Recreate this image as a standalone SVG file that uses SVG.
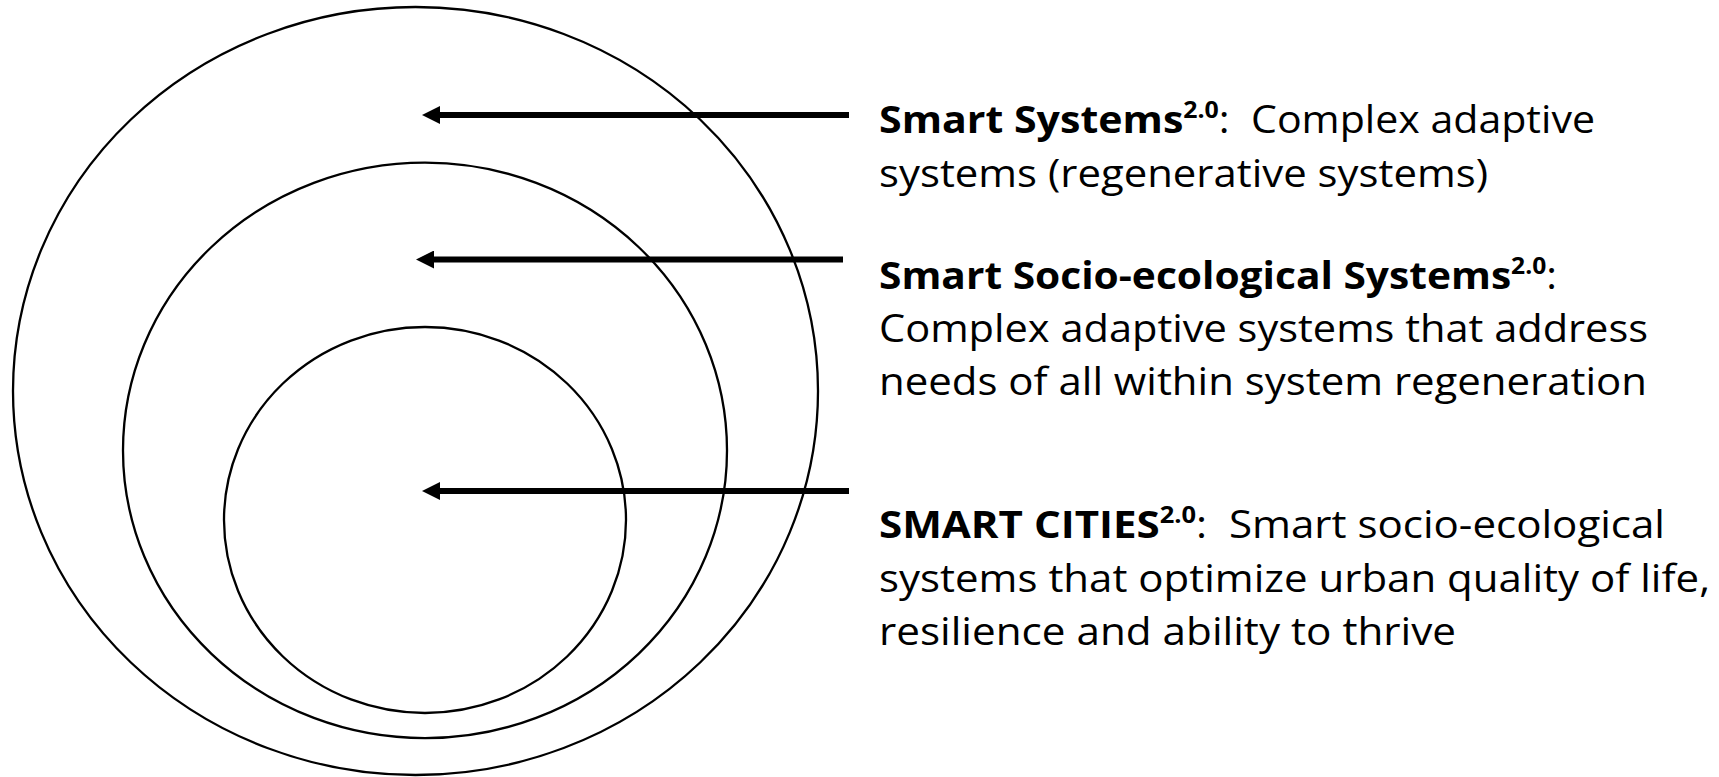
<svg xmlns="http://www.w3.org/2000/svg" width="1719" height="777" viewBox="0 0 1719 777">
<style>
.ring{fill:none;stroke:#000;stroke-width:2.3}
.conn{stroke:#000;stroke-width:6;fill:none}
.t{font-family:"Open Sans","Noto Sans","Liberation Sans",sans-serif;font-size:38px;fill:#000}
.b{font-weight:bold}
.sup{font-weight:bold;font-size:23px}
</style>
<defs>
<marker id="ah" markerUnits="userSpaceOnUse" markerWidth="18" markerHeight="18" viewBox="0 0 17 17" refX="0" refY="8.5" orient="auto">
<path d="M0,0 L17,8.5 L0,17 z" fill="#000"/>
</marker>
</defs>
<rect width="1719" height="777" fill="#fff"/>
<g id="outer"><ellipse class="ring" cx="415.5" cy="391" rx="402.5" ry="384"/></g>
<g id="middle"><ellipse class="ring" cx="425" cy="450.4" rx="302" ry="287.7"/></g>
<g id="inner"><ellipse class="ring" cx="425" cy="520" rx="201" ry="193"/></g>
<g id="connectors">
<line class="conn" x1="849" y1="115" x2="440" y2="115" marker-end="url(#ah)"/>
<line class="conn" x1="843" y1="259.5" x2="434" y2="259.5" marker-end="url(#ah)"/>
<line class="conn" x1="849" y1="491" x2="440" y2="491" marker-end="url(#ah)"/>
</g>
<g id="label-smart-systems">
<text class="t" x="879" y="133" textLength="716" lengthAdjust="spacingAndGlyphs"><tspan class="b">Smart Systems</tspan><tspan class="sup" dy="-15">2.0</tspan><tspan dy="15">:&#160; Complex adaptive</tspan></text>
<text class="t" x="879" y="187" textLength="609" lengthAdjust="spacingAndGlyphs">systems (regenerative systems)</text>
</g>
<g id="label-socio-ecological">
<text class="t" x="879" y="289" textLength="678" lengthAdjust="spacingAndGlyphs"><tspan class="b">Smart Socio-ecological Systems</tspan><tspan class="sup" dy="-15">2.0</tspan><tspan dy="15">:</tspan></text>
<text class="t" x="879" y="342" textLength="769" lengthAdjust="spacingAndGlyphs">Complex adaptive systems that address</text>
<text class="t" x="879" y="395" textLength="768" lengthAdjust="spacingAndGlyphs">needs of all within system regeneration</text>
</g>
<g id="label-smart-cities">
<text class="t" x="879" y="538" textLength="786" lengthAdjust="spacingAndGlyphs"><tspan class="b">SMART CITIES</tspan><tspan class="sup" dy="-15">2.0</tspan><tspan dy="15">:&#160; Smart socio-ecological</tspan></text>
<text class="t" x="879" y="592" textLength="831" lengthAdjust="spacingAndGlyphs">systems that optimize urban quality of life,</text>
<text class="t" x="879" y="645" textLength="577" lengthAdjust="spacingAndGlyphs">resilience and ability to thrive</text>
</g>
</svg>
